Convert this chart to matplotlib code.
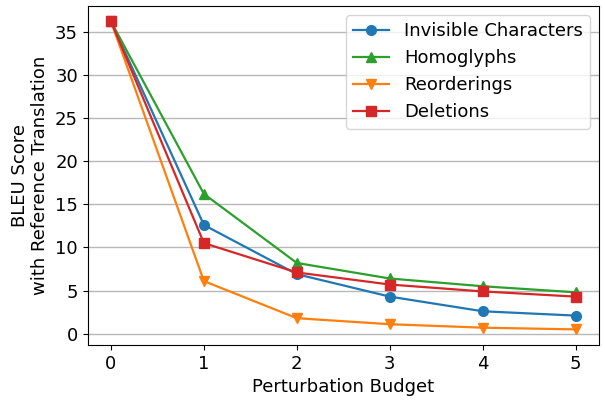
import matplotlib
matplotlib.use("Agg")
import matplotlib.pyplot as plt

# perturbation budgets and BLEU scores
budget = [0, 1, 2, 3, 4, 5]
invisible = [36.2, 12.6, 6.9, 4.3, 2.6, 2.1]
homoglyphs = [36.2, 16.2, 8.2, 6.4, 5.5, 4.8]
reorderings = [36.2, 6.1, 1.8, 1.1, 0.7, 0.5]
deletions = [36.2, 10.5, 7.1, 5.7, 4.9, 4.3]

plt.rcParams['font.size'] = 13

fig, ax = plt.subplots(figsize=(6.05, 4.0), dpi=100)
ax.plot(budget, invisible, marker='o', color='tab:blue', linewidth=1.6,
        markersize=7, label='Invisible Characters')
ax.plot(budget, homoglyphs, marker='^', color='tab:green', linewidth=1.6,
        markersize=7, label='Homoglyphs')
ax.plot(budget, reorderings, marker='v', color='tab:orange', linewidth=1.6,
        markersize=7, label='Reorderings')
ax.plot(budget, deletions, marker='s', color='tab:red', linewidth=1.6,
        markersize=7, label='Deletions')

ax.set_xlabel('Perturbation Budget')
ax.set_ylabel('BLEU Score\nwith Reference Translation')
ax.set_xticks(budget)
ax.yaxis.grid(True, color='#b8b8b8', linewidth=1)
ax.set_axisbelow(True)
ax.legend(loc='upper right')

fig.subplots_adjust(left=0.145, right=0.99, top=0.985, bottom=0.138)
fig.savefig('out.png')
